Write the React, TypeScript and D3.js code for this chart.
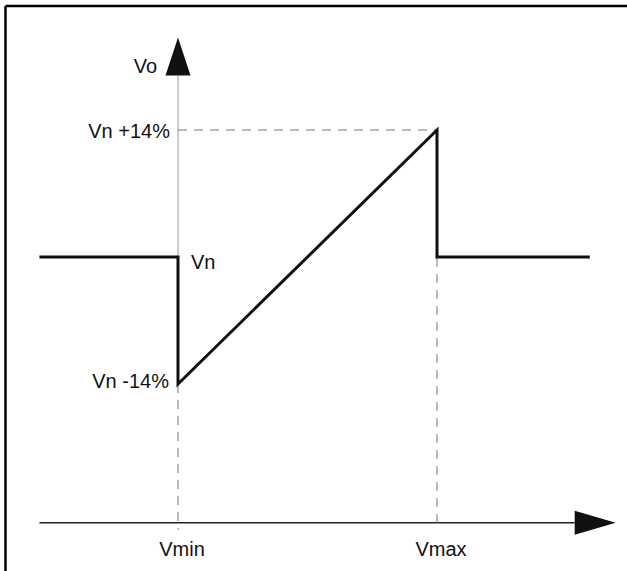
import React from "react";
import * as d3 from "d3";

// Output voltage vs input voltage (x in units of Vmin..Vmax, y in % of Vn)
const xTickLabels = ["Vmin", "Vmax"];
const xTickValues = [0, 1];
const yTickLabels = ["Vn +14%", "Vn", "Vn -14%"];
const yTickValues = [14, 0, -14];
const outputX = [-0.535, 0, 0, 1, 1, 1.59];
const outputY = [0, 0, -14, 14, 0, 0];
const xAxisExtent = [-0.535, 1.69];
const yAxisExtent = [-30.5, 24.2];

const W = 627;
const H = 571;
const FONT = "'Liberation Sans', Arial, sans-serif";

export default function App() {
  const x = d3.scaleLinear().domain([0, 1]).range([178, 437]);
  const y = d3.scaleLinear().domain([-14, 14]).range([384, 130]);

  const pts: [number, number][] = outputX.map((v, i) => [x(v), y(outputY[i])]);
  const line = d3.line<[number, number]>().x(d => d[0]).y(d => d[1]);

  const axisY = y(yAxisExtent[0] + 1.2); // x-axis baseline
  const xTip = x(xAxisExtent[1]);
  const xStart = x(xAxisExtent[0]);
  const yTip = y(yAxisExtent[1]);
  const y0 = x(0);
  const arrowLenX = 41;
  const arrowHalfX = 12;
  const arrowLenY = 38;
  const arrowHalfY = 12.5;

  const dashed = "#777";

  return (
    <svg
      width={W}
      height={H}
      style={{ position: "absolute", left: 0, top: 0, display: "block", background: "#fff" }}
    >
      {/* frame (cropped on right and bottom) */}
      <line x1={5.5} y1={6} x2={W} y2={6} stroke="#000" strokeWidth={2.5} />
      <line x1={5.5} y1={6} x2={5.5} y2={H} stroke="#000" strokeWidth={2.5} />

      {/* y axis */}
      <line x1={y0} y1={yTip + arrowLenY} x2={y0} y2={y(0)} stroke="#999" strokeWidth={1} />
      <line x1={y0} y1={y(-14)} x2={y0} y2={axisY + 7} stroke={dashed} strokeWidth={1} strokeDasharray="9,7" />
      <polygon
        points={`${y0},${yTip} ${y0 - arrowHalfY},${yTip + arrowLenY} ${y0 + arrowHalfY},${yTip + arrowLenY}`}
        fill="#111"
      />

      {/* x axis */}
      <line x1={xStart} y1={axisY} x2={xTip - arrowLenX} y2={axisY} stroke="#222" strokeWidth={1.5} />
      <polygon
        points={`${xTip},${axisY} ${xTip - arrowLenX},${axisY - arrowHalfX} ${xTip - arrowLenX},${axisY + arrowHalfX}`}
        fill="#111"
      />

      {/* guide lines */}
      <line x1={x(0)} y1={y(14)} x2={x(1)} y2={y(14)} stroke={dashed} strokeWidth={1} strokeDasharray="9,7" />
      <line x1={x(1)} y1={y(14)} x2={x(1)} y2={axisY + 7} stroke={dashed} strokeWidth={1} strokeDasharray="9,7" />

      {/* output characteristic */}
      <path d={line(pts) ?? ""} fill="none" stroke="#111" strokeWidth={3} strokeLinejoin="miter" />

      {/* labels */}
      <text x={y0 - 21} y={73} textAnchor="end" fontFamily={FONT} fontSize={20} fill="#111">
        Vo
      </text>
      <text x={y0 - 8} y={y(14) + 8} textAnchor="end" fontFamily={FONT} fontSize={20} fill="#111">
        {yTickLabels[0]}
      </text>
      <text x={y0 + 13} y={y(yTickValues[1]) + 12} textAnchor="start" fontFamily={FONT} fontSize={20} fill="#111">
        {yTickLabels[1]}
      </text>
      <text x={y0 - 9} y={y(yTickValues[2]) + 4} textAnchor="end" fontFamily={FONT} fontSize={20} fill="#111">
        {yTickLabels[2]}
      </text>
      {xTickValues.map((v, i) => (
        <text
          key={xTickLabels[i]}
          x={x(v) + 4}
          y={axisY + 33}
          textAnchor="middle"
          fontFamily={FONT}
          fontSize={20}
          fill="#111"
        >
          {xTickLabels[i]}
        </text>
      ))}
    </svg>
  );
}
